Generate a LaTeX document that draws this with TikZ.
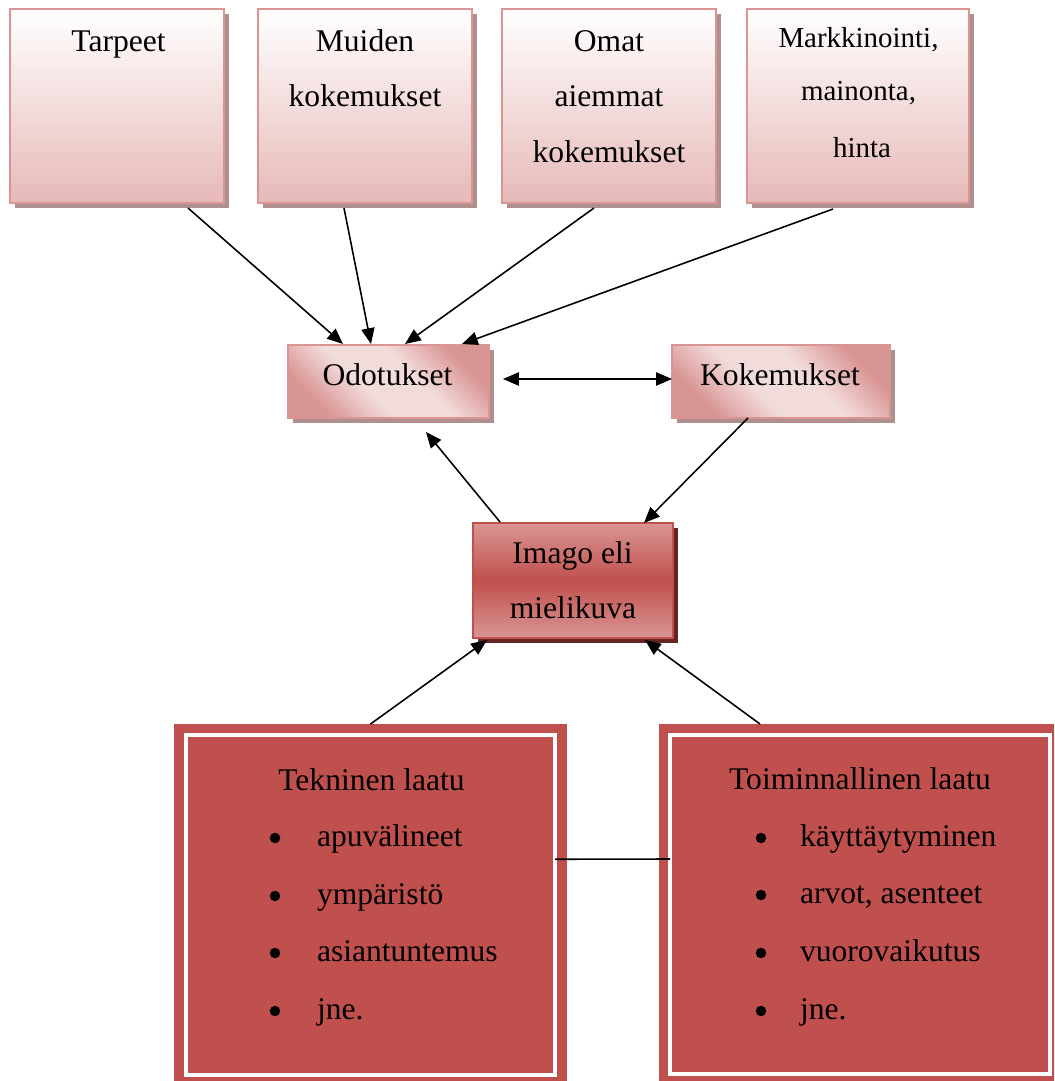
\documentclass[tikz,border=0pt]{standalone}
\usepackage{fontspec}
\setmainfont{Liberation Serif}
\usetikzlibrary{arrows.meta,shadows,calc}
\definecolor{bordpink}{HTML}{D99594}
\definecolor{pinkbot}{HTML}{E6B9B8}
\definecolor{pinkshadow}{HTML}{B08F8F}
\definecolor{midlt}{HTML}{F2DCDB}
\definecolor{redmain}{HTML}{C0504D}
\definecolor{darkshadow}{HTML}{632423}
\pgfdeclarehorizontalshading{diagpink}{100bp}{color(0bp)=(bordpink); color(26bp)=(bordpink); color(42bp)=(midlt); color(58bp)=(midlt); color(74bp)=(bordpink); color(100bp)=(bordpink)}
\newcommand\pxl{0.38pt}
\begin{document}
\begin{tikzpicture}[x=0.38pt, y=-0.38pt,
  every node/.style={inner sep=0pt, outer sep=0pt},
  topbox/.style={draw=bordpink, line width=0.8pt, top color=white, bottom color=pinkbot,
    drop shadow={shadow xshift=1.9pt, shadow yshift=-1.9pt, fill=pinkshadow, opacity=1},
    minimum height=194*\pxl},
  midbox/.style={draw=bordpink, line width=0.8pt, shading=diagpink, shading angle=45,
    drop shadow={shadow xshift=1.9pt, shadow yshift=-1.9pt, fill=pinkshadow, opacity=1},
    minimum height=73*\pxl},
  imagobox/.style={draw=redmain, line width=0.8pt, top color=bordpink, bottom color=bordpink, middle color=redmain,
    drop shadow={shadow xshift=1.9pt, shadow yshift=-1.9pt, fill=darkshadow, opacity=1}},
  outerbox/.style={fill=redmain, draw=none},
  innerframe/.style={draw=white, line width=1.52pt},
  txt/.style={font=\fontsize{12}{14}\selectfont, anchor=base},
  smalltxt/.style={font=\fontsize{11}{13}\selectfont, anchor=base},
  itemtxt/.style={font=\fontsize{12}{14}\selectfont, anchor=base west},
  bul/.style={circle, fill=black, minimum size=10.5*\pxl},
  arr/.style={-{Triangle[length=6pt,width=5pt]}, line width=0.6pt},
  darr/.style={{Triangle[length=6pt,width=5pt]}-{Triangle[length=6pt,width=5pt]}, line width=0.6pt},
  conn/.style={line width=0.6pt}
]
\useasboundingbox (0,0) rectangle (1054,1081);
\clip (0,0) rectangle (1054,1081);

% top boxes
\node[topbox, minimum width=214*\pxl] (tarp) at (117,106) {};
\node[topbox, minimum width=214*\pxl] (muid) at (365,106) {};
\node[topbox, minimum width=214*\pxl] (omat) at (609,106) {};
\node[topbox, minimum width=222*\pxl] (mark) at (858,106) {};

\node[txt] (t1) at (118.5,52) {Tarpeet};
\node[txt] (t2a) at (365,52) {Muiden};
\node[txt] (t2b) at (365,107) {kokemukset};
\node[txt] (t3a) at (609,52) {Omat};
\node[txt] (t3b) at (609,107) {aiemmat};
\node[txt] (t3c) at (609,162) {kokemukset};
\node[smalltxt] (t4a) at (858.5,48) {Markkinointi,};
\node[smalltxt] (t4b) at (858.5,101) {mainonta,};
\node[smalltxt] (t4c) at (862,157) {hinta};

% middle boxes
\node[midbox, minimum width=201*\pxl] (odo) at (388.5,381.5) {};
\node[midbox, minimum width=218*\pxl] (koke) at (781,381.5) {};
\node[txt] (odot) at (387.5,385) {Odotukset};
\node[txt] (koket) at (780,385) {Kokemukset};

% imago
\node[imagobox, minimum width=200*\pxl, minimum height=115*\pxl] (imago) at (573,580.5) {};
\node[txt] (im1) at (572.5,563) {Imago eli};
\node[txt] (im2) at (573,618) {mielikuva};

% bottom boxes
\node[outerbox, minimum width=393*\pxl, minimum height=362*\pxl] (tek) at (370.5,905) {};
\node[outerbox, minimum width=399*\pxl, minimum height=362*\pxl] (toim) at (858.5,905) {};
\node[innerframe, minimum width=369.5*\pxl, minimum height=339.5*\pxl] (tekin) at (370.25,904.75) {};
\node[innerframe, minimum width=379.5*\pxl, minimum height=339*\pxl] (toimin) at (859.75,904.5) {};

\node[txt] (tekt) at (371.5,790) {Tekninen laatu};
\node[bul] (b1) at (275,838) {};
\node[bul] (b2) at (275,896) {};
\node[bul] (b3) at (275,953) {};
\node[bul] (b4) at (275,1011) {};
\node[itemtxt] (i1) at (317,846) {apuvälineet};
\node[itemtxt] (i2) at (317,904) {ympäristö};
\node[itemtxt] (i3) at (317,961) {asiantuntemus};
\node[itemtxt] (i4) at (317,1019) {jne.};

\node[txt] (toimt) at (860,789) {Toiminnallinen laatu};
\node[bul] (c1) at (761,838) {};
\node[bul] (c2) at (761,895) {};
\node[bul] (c3) at (761,953) {};
\node[bul] (c4) at (761,1011) {};
\node[itemtxt] (j1) at (800,846) {käyttäytyminen};
\node[itemtxt] (j2) at (800,903) {arvot, asenteet};
\node[itemtxt] (j3) at (800,961) {vuorovaikutus};
\node[itemtxt] (j4) at (800,1019) {jne.};

% connectors
\draw[arr] ($(tarp.south)+(71,5)$) -- ($(odo.north)+(-45.5,-1)$);
\draw[arr] ($(muid.south)+(-21,5)$) -- ($(odo.north)+(-17.5,-1)$);
\draw[arr] ($(omat.south)+(-15,5)$) -- ($(odo.north)+(16.5,-1)$);
\draw[arr] ($(mark.south)+(-25,6)$) -- ($(odo.north)+(73.5,-1)$);
\draw[darr] ($(odo.east)+(14,-2.5)$) -- ($(koke.west)+(0,-2.5)$);
\draw[arr] ($(imago.north)+(-73,-1)$) -- ($(odo.south)+(37.5,14)$);
\draw[arr] ($(koke.south)+(-33,0)$) -- ($(imago.north)+(71,0)$);
\draw[arr] (tek.north) -- ($(imago.south)+(-86,2)$);
\draw[arr] ($(toim.north)+(-98.5,0)$) -- ($(imago.south)+(72,2)$);
\draw[conn] ($(tekin.east)+(0,-45.5)$) -- ($(toimin.west)+(0,-45.5)$);
\end{tikzpicture}
\end{document}
